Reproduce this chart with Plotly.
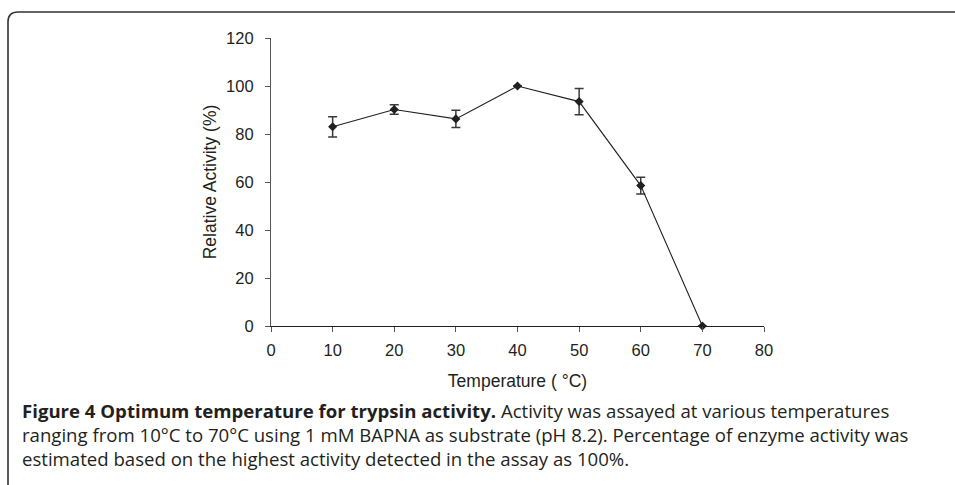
import plotly.graph_objects as go

temperature = [10, 20, 30, 40, 50, 60, 70]
activity = [83.0, 90.2, 86.3, 100.0, 93.5, 58.5, 0.0]
activity_err = [4.2, 2.0, 3.6, 0.0, 5.5, 3.5, 0.0]

x_ticks = [0, 10, 20, 30, 40, 50, 60, 70, 80]
y_ticks = [0, 20, 40, 60, 80, 100, 120]

x_title = "Temperature ( °C)"
y_title = "Relative Activity (%)"
caption_lines = [
    "<b>Figure 4 Optimum temperature for trypsin activity.</b> Activity was assayed at various temperatures",
    "ranging from 10°C to 70°C using 1 mM BAPNA as substrate (pH 8.2). Percentage of enzyme activity was",
    "estimated based on the highest activity detected in the assay as 100%.",
]

W, H = 955, 485
L, R, T, B = 271, 191, 38, 159
PW = W - L - R
PH = H - T - B


def px(x):
    return (x - L) / PW


def py(y):
    return (H - B - y) / PH


fig = go.Figure()
fig.add_trace(go.Scatter(
    x=temperature, y=activity,
    mode="lines+markers",
    line=dict(color="#231f20", width=1.1),
    marker=dict(symbol="diamond", size=7, color="#231f20"),
    error_y=dict(type="data", array=activity_err, visible=True,
                 color="#3a3a3a", thickness=1.5, width=4.5),
    showlegend=False,
    cliponaxis=False,
))

FONT = "Liberation Sans, Arial, sans-serif"
axis_font = dict(family=FONT, size=16.5, color="#231f20")
title_font = dict(family=FONT, size=17.5, color="#231f20")

fig.update_layout(
    width=W, height=H,
    margin=dict(l=L, r=R, t=T, b=B, pad=0),
    paper_bgcolor="white", plot_bgcolor="white",
    font=axis_font,
    xaxis=dict(range=[0, 80], tickvals=x_ticks, ticks="outside", ticklen=5,
               tickcolor="#555", tickwidth=1.2, showline=True, linecolor="#231f20",
               linewidth=1.2, showgrid=False, zeroline=False,
               tickfont=axis_font, ticklabelstandoff=4,
               title=dict(text=x_title, font=title_font, standoff=16)),
    yaxis=dict(range=[0, 120], tickvals=y_ticks, ticks="outside", ticklen=5,
               tickcolor="#555", tickwidth=1.2, showline=True, linecolor="#555",
               linewidth=1.2, showgrid=False, zeroline=False,
               tickfont=axis_font, ticklabelstandoff=8,
               title=dict(text=y_title, font=title_font, standoff=4)),
)

# rounded frame around the figure (top and left edges)
x0, y0, r = 8, 12, 10
path = (f"M {px(x0)},{py(H + 10)} L {px(x0)},{py(y0 + r)} "
        f"Q {px(x0)},{py(y0)} {px(x0 + r)},{py(y0)} L {px(W + 10)},{py(y0)}")
fig.add_shape(type="path", path=path, xref="paper", yref="paper",
              line=dict(color="#333333", width=1.6))

caption_y = [410, 434, 458]
for text, yy in zip(caption_lines, caption_y):
    fig.add_annotation(text=text, x=px(20), y=py(yy), xref="paper", yref="paper",
                       xanchor="left", yanchor="middle", showarrow=False,
                       font=dict(family="Open Sans, sans-serif", size=18.6, color="#231f20"))

fig.write_html("out.html", config={"displayModeBar": False},
               post_script="document.body.style.margin='0';document.body.style.overflow='hidden';")
